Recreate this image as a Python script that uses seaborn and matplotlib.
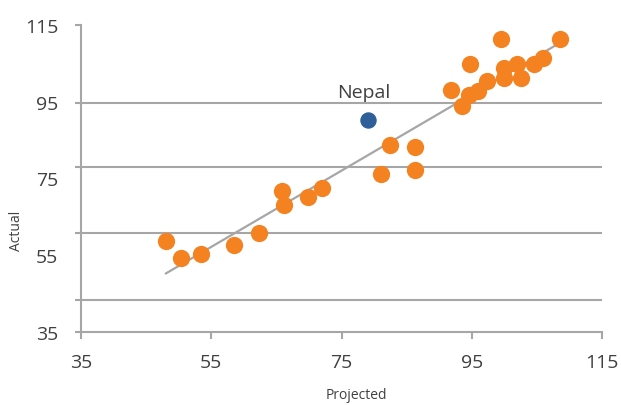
import numpy as np
import pandas as pd
import seaborn as sns
import matplotlib.pyplot as plt

# values
projected = [48.0, 50.4, 53.4, 58.5, 62.4, 65.8, 66.1, 69.8, 72.0,
             81.0, 82.4, 86.3, 86.3, 91.8, 93.5, 94.6, 95.9, 97.3, 94.8,
             99.5, 99.9, 100.0, 102.0, 102.6, 104.5, 105.9, 108.6]
actual = [58.6, 54.2, 55.3, 57.6, 60.7, 71.7, 68.1, 70.3, 72.5,
          76.3, 83.8, 83.3, 77.2, 98.1, 94.0, 96.8, 97.9, 100.4, 104.8,
          111.4, 103.8, 101.2, 104.8, 101.2, 104.8, 106.5, 111.4]
nepal_projected = [79.0]
nepal_actual = [90.2]
tick_values = [35, 55, 75, 95, 115]
grid_levels = [43.3, 60.7, 77.9, 94.6]

orange = '#F58220'
blue = '#2F5F98'
grey = '#A6A6A6'
text_col = '#404040'

sns.set_style('white')
plt.rcParams['font.family'] = ['Open Sans', 'DejaVu Sans']

df = pd.DataFrame({'Projected': projected, 'Actual': actual})
nepal = pd.DataFrame({'Projected': nepal_projected, 'Actual': nepal_actual})

fig = plt.figure(figsize=(6.21, 4.06), dpi=100)
ax = fig.add_axes([81 / 621, 73 / 406, 521 / 621, 307 / 406])

for g in grid_levels:
    ax.axhline(g, color=grey, lw=1.5, zorder=0)

sns.regplot(data=df, x='Projected', y='Actual', scatter=False, ci=None,
            ax=ax, line_kws={'color': grey, 'lw': 1.6, 'zorder': 1})
sns.scatterplot(data=df, x='Projected', y='Actual', color=orange, s=155,
                linewidth=0, ax=ax, zorder=3)
sns.scatterplot(data=nepal, x='Projected', y='Actual', color=blue, s=140,
                linewidth=0, ax=ax, zorder=3)
ax.annotate('Nepal', (nepal_projected[0], nepal_actual[0]),
            xytext=(-3, 16.5), textcoords='offset points',
            ha='center', va='baseline', fontsize=14, color=text_col)

ax.set_xlim(35, 115)
ax.set_ylim(35, 115)
ax.set_xticks(tick_values)
ax.set_xticklabels([str(t) for t in tick_values])
# tick marks sit at the grid levels, labels sit on their own (minor) ticks
ax.yaxis.remove_overlapping_locs = False
ax.set_yticks([35] + grid_levels + [115])
ax.set_yticklabels([])
ax.set_yticks(tick_values, minor=True)
ax.set_yticklabels([str(t) for t in tick_values], minor=True)

ax.tick_params(axis='x', which='major', length=5, width=1.5, color=grey,
               labelsize=14, labelcolor=text_col, pad=10, direction='out',
               bottom=True)
ax.tick_params(axis='y', which='major', length=4, width=1.5, color=grey,
               direction='out', left=True)
ax.tick_params(axis='y', which='minor', length=0, labelsize=14,
               labelcolor=text_col, pad=16.5)

sns.despine(ax=ax)
for side in ['left', 'bottom']:
    ax.spines[side].set_color(grey)
    ax.spines[side].set_linewidth(1.5)

ax.set_xlabel('Projected', fontsize=10, color=text_col, va='center')
ax.xaxis.set_label_coords((356 - 81) / 521, (333 - 396) / 307)
ax.set_ylabel('Actual', fontsize=10, color=text_col, va='center')
ax.yaxis.set_label_coords((17 - 81) / 521, (333 - 231) / 307)

fig.savefig('out.png', dpi=100)
